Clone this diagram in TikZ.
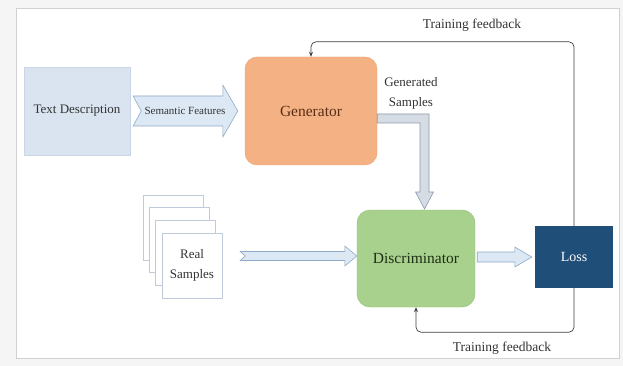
\documentclass[tikz,border=0pt]{standalone}
\usepackage{fontspec}
\setmainfont{Liberation Serif}
\usetikzlibrary{arrows.meta,positioning,calc}
\definecolor{tdblue}{HTML}{DAE4F0}
\definecolor{tdline}{HTML}{C9D6E8}
\definecolor{arrblue}{HTML}{DCE8F4}
\definecolor{arrline}{HTML}{8FA9C8}
\definecolor{genfill}{HTML}{F4B183}
\definecolor{genline}{HTML}{EFA474}
\definecolor{gentext}{HTML}{5A2E18}
\definecolor{disfill}{HTML}{A9D18E}
\definecolor{disline}{HTML}{8CBB6C}
\definecolor{distext}{HTML}{1E2E14}
\definecolor{lossfill}{HTML}{1F4E79}
\definecolor{grayarr}{HTML}{D6DCE4}
\definecolor{grayline}{HTML}{8C9AAE}
\definecolor{sheetline}{HTML}{BFCBDB}
\definecolor{ink}{HTML}{333333}
\newcommand{\fatarrow}[6]{%
  \draw[fat] ($(#1)+(0,-#3)$) -- ($(#2)+(-#5,-#3)$) -- ($(#2)+(-#5,-#4)$) -- (#2)
    -- ($(#2)+(-#5,#4)$) -- ($(#2)+(-#5,#3)$) -- ($(#1)+(0,#3)$) -- ($(#1)+(#6,0)$) -- cycle;}

\begin{document}
\begin{tikzpicture}[x=1pt, y=-1pt,
  box/.style={inner sep=0pt, align=center, text=ink},
  sheet/.style={box, draw=sheetline, fill=white, line width=0.6pt, minimum width=60pt, minimum height=65pt},
  fat/.style={fill=arrblue, draw=arrline, line width=0.6pt, line join=miter},
  fb/.style={draw=black!75, line width=0.7pt, rounded corners=5pt, -{Stealth[length=5pt,width=4pt]}},
  lbl/.style={box, font=\fontsize{13.5}{16}\selectfont}]
\fill[black!4] (0,0) rectangle (623,366);
\draw[black!18, fill=white] (16,8) rectangle (619,358);

\node[box, fill=tdblue, draw=tdline, minimum width=106pt, minimum height=88pt,
  font=\fontsize{13}{16}\selectfont] (txt) at (77,111) {Text Description};
\node[box, fill=genfill, draw=genline, rounded corners=12pt, minimum width=132pt, minimum height=108pt,
  text=gentext, font=\fontsize{15.5}{18}\selectfont] (gen) at (311,111) {Generator};
\node[box, fill=disfill, draw=disline, rounded corners=13pt, minimum width=118pt, minimum height=97pt,
  text=distext, font=\fontsize{15.5}{18}\selectfont] (dis) at (416,258.5) {Discriminator};
\node[box, fill=lossfill, minimum width=78pt, minimum height=62pt,
  text=white, font=\fontsize{14}{17}\selectfont] (loss) at (574,257) {Loss};

\foreach \k in {3,2,1}
  \node[sheet] (sheet\k) at ($(192,265.5)+(-6.3*\k,-12.7*\k)$) {};
\node[sheet, font=\fontsize{13}{20}\selectfont] (real) at (192,265.5) {Real\\Samples};

\coordinate (sa) at ($(txt.east)+(3,0)$);
\coordinate (sb) at ($(gen.west)+(-7,0)$);
\fatarrow{sa}{sb}{15}{26}{15}{8}
\node[box, font=\fontsize{11}{13}\selectfont] (sem) at (185,111) {Semantic Features};

\coordinate (ra) at ($(real.east)+(18,-9.5)$);
\coordinate (rb) at (ra -| dis.west);
\fatarrow{ra}{rb}{4.5}{10}{12}{5}

\coordinate (da) at ($(dis.east)+(2,-1.5)$);
\coordinate (db) at ($(loss.west)+(-3,0)$);
\fatarrow{da}{db}{5}{10}{17}{0}

\coordinate (ga) at (gen.east |- 0,118.5);
\coordinate (gt) at (424.5,209);
\coordinate (gc) at (ga -| gt);
\draw[fat, fill=grayarr, draw=grayline] ($(ga)+(0,-4.5)$) -- ($(gc)+(4.5,-4.5)$) -- ($(gt)+(4.5,-17)$)
  -- ($(gt)+(9,-17)$) -- (gt) -- ($(gt)+(-9,-17)$) -- ($(gt)+(-4.5,-17)$)
  -- ($(gc)+(-4.5,4.5)$) -- ($(ga)+(0,4.5)$) -- cycle;
\node[box, font=\fontsize{13}{20}\selectfont] (gens) at (411,93) {Generated\\Samples};

\draw[fb] (loss.north) |- ([yshift=15pt]gen.north) -- (gen.north);
\draw[fb] (loss.south) |- ([yshift=-25pt]dis.south) -- (dis.south);
\node[lbl] (fbtop) at (472,25) {Training feedback};
\node[lbl] (fbbot) at (502,348) {Training feedback};
\end{tikzpicture}
\end{document}
